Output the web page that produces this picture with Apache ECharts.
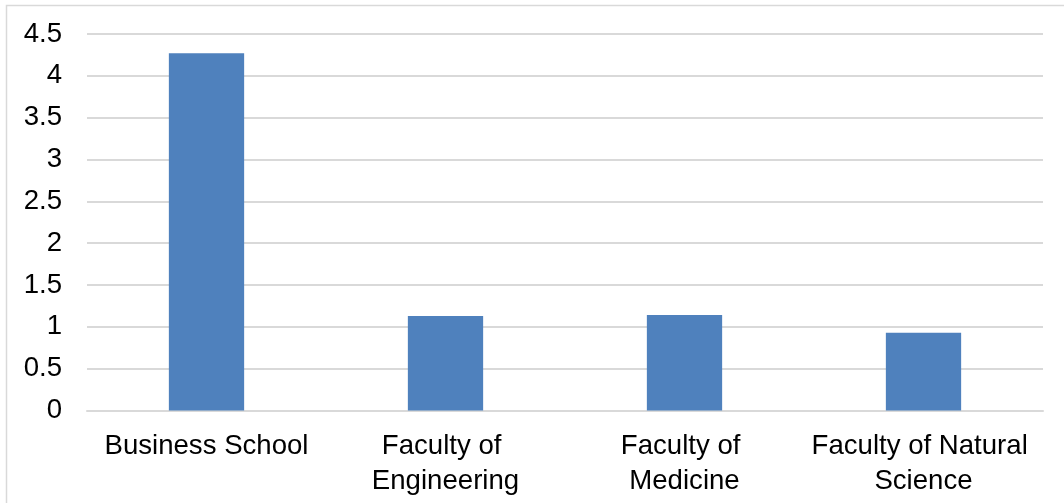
<!DOCTYPE html>
<html>
<head>
<meta charset="utf-8">
<script src="https://cdn.jsdelivr.net/npm/echarts@6/dist/echarts.min.js"></script>
<style>
html,body{margin:0;padding:0;background:#fff;}
#c{width:1064px;height:503px;}
</style>
</head>
<body>
<div id="c"></div>
<script>
var categories = ['Business School', 'Faculty of Engineering', 'Faculty of Medicine', 'Faculty of Natural Science'];
var values = [4.27, 1.13, 1.14, 0.93];
var yTicks = [0, 0.5, 1, 1.5, 2, 2.5, 3, 3.5, 4, 4.5];

var chart = echarts.init(document.getElementById('c'), null, {renderer: 'canvas'});
chart.setOption({
  animation: false,
  backgroundColor: '#fff',
  graphic: [{
    type: 'rect',
    shape: {x: 6.5, y: 5.5, width: 1100, height: 600},
    style: {fill: 'none', stroke: '#d9d9d9', lineWidth: 1.5},
    silent: true
  }],
  grid: {left: 87, right: 21, top: 34, bottom: 92.5, containLabel: false},
  xAxis: {
    type: 'category',
    data: categories,
    axisLine: {show: true, lineStyle: {color: '#d9d9d9', width: 2}},
    axisTick: {show: false},
    axisLabel: {
      interval: 0,
      color: '#000',
      fontFamily: 'Liberation Sans, Arial, sans-serif',
      fontSize: 27.6,
      lineHeight: 35,
      margin: 18,
      width: 228,
      overflow: 'break'
    }
  },
  yAxis: {
    type: 'value',
    min: yTicks[0],
    max: yTicks[yTicks.length - 1],
    interval: 0.5,
    axisLine: {show: false},
    axisTick: {show: false},
    splitLine: {show: true, lineStyle: {color: '#d9d9d9', width: 2}},
    axisLabel: {
      color: '#000',
      fontFamily: 'Liberation Sans, Arial, sans-serif',
      fontSize: 27.6,
      margin: 25
    }
  },
  series: [{
    type: 'bar',
    data: values,
    barWidth: '31.5%',
    itemStyle: {color: '#4F81BD'}
  }]
});
</script>
</body>
</html>
